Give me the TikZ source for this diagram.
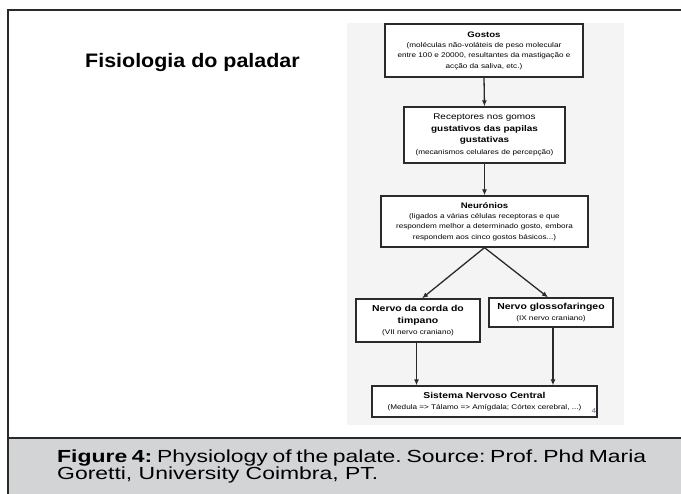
\documentclass[tikz,border=0pt]{standalone}
\usepackage{fontspec}
\setmainfont{Liberation Sans}[FakeStretch=1.2]
\newfontfamily\titlefont{Liberation Sans}[FakeStretch=1.1]
\newfontfamily\capfont{Liberation Sans}[FakeStretch=1.31]
\usetikzlibrary{arrows.meta}
\definecolor{capgray}{HTML}{D3D4D6}
\definecolor{scan}{HTML}{F4F4F4}
\definecolor{ink}{HTML}{2A2A2A}
\definecolor{pgnum}{HTML}{5A6E9A}
\frenchspacing
\begin{document}
\begin{tikzpicture}[x=1pt,y=-1pt,
  box/.style={draw=ink, line width=1.3pt, fill=white, inner sep=1pt, align=center, text=black},
  arr/.style={draw=ink, line width=1.3pt, -{Latex[length=6pt,width=5pt]}},
  small/.style={font=\fontsize{6.8}{10.3}\selectfont}]
\useasboundingbox (0,0) rectangle (681,494);
\fill[white] (0,0) rectangle (681,494);
\fill[capgray] (8,438) rectangle (681,494);
\draw[line width=1.2pt, ink] (8,494) -- (8,10) -- (681,10);
\draw[line width=1.2pt, ink] (8,438) -- (681,438);
\fill[scan] (347,23) rectangle (624,425);

\node[anchor=base west, inner sep=0pt, font=\titlefont\fontsize{19.5}{22}\selectfont\bfseries] (title) at (85,68) {Fisiologia do paladar};

\node[box, small, minimum width=198pt, minimum height=53pt] (gostos) at (484,50.5)
  {{\fontsize{8}{10}\selectfont\bfseries Gostos}\\(moléculas não-voláteis de peso molecular\\entre 100 e 20000, resultantes da mastigação e\\acção da saliva, etc.)};

\node[box, font=\fontsize{8.3}{11.5}\selectfont, minimum width=161pt, minimum height=56pt] (recep) at (484.5,135)
  {Receptores nos gomos\\\textbf{gustativos das papilas}\\\textbf{gustativas}\\{\fontsize{6.8}{10}\selectfont(mecanismos celulares de percepção)}};

\node[box, small, minimum width=207pt, minimum height=51pt] (neur) at (484.5,221.5)
  {{\fontsize{8}{10}\selectfont\bfseries Neurónios}\\(ligados a várias células receptoras e que\\respondem melhor a determinado gosto, embora\\respondem aos cinco gostos básicos...)};

\node[box, font=\fontsize{8.7}{12}\selectfont, minimum width=124pt, minimum height=43pt] (left) at (418,320.5)
  {\textbf{Nervo da corda do}\\\textbf{timpano}\\[-1.5pt]{\fontsize{6.8}{10}\selectfont(VII nervo craniano)}};

\node[box, font=\fontsize{8.7}{12}\selectfont, minimum width=124pt, minimum height=29pt] (right) at (551,312.5)
  {\textbf{Nervo glossofaringeo}\\[-1.5pt]{\fontsize{6.8}{10}\selectfont(IX nervo craniano)}};

\node[box, font=\fontsize{8.6}{11}\selectfont, minimum width=225pt, minimum height=31pt] (sist) at (484.5,401.5)
  {\textbf{Sistema Nervoso Central}\\{\fontsize{6.8}{10}\selectfont(Medula => Tálamo => Amígdala; Córtex cerebral, ...)}};
\node[font=\fontsize{7}{8}\selectfont, text=pgnum, inner sep=0pt] (pg) at (594,411) {4};

\draw[arr] (gostos.south) -- (recep.north);
\draw[arr] (recep.south) -- (neur.north);
\draw[arr] (neur.south) -- ([xshift=4pt]left.north);
\draw[arr] (neur.south) -- ([xshift=-3pt]right.north);
\draw[arr] ([xshift=-1.5pt]left.south) -- ([xshift=-1.5pt]left.south |- sist.north);
\draw[arr] ([xshift=2pt]right.south) -- ([xshift=2pt]right.south |- sist.north);

\node[anchor=base west, inner sep=0pt, font=\capfont\fontsize{17.5}{17.5}\selectfont] (cap1) at (57,463)
  {\makebox[589pt][s]{\textbf{Figure 4:} Physiology of the palate. Source: Prof. Phd Maria}};
\node[anchor=base west, inner sep=0pt, font=\capfont\fontsize{17.5}{17.5}\selectfont] (cap2) at (57,480)
  {Goretti, University Coimbra, PT.};
\end{tikzpicture}
\end{document}
